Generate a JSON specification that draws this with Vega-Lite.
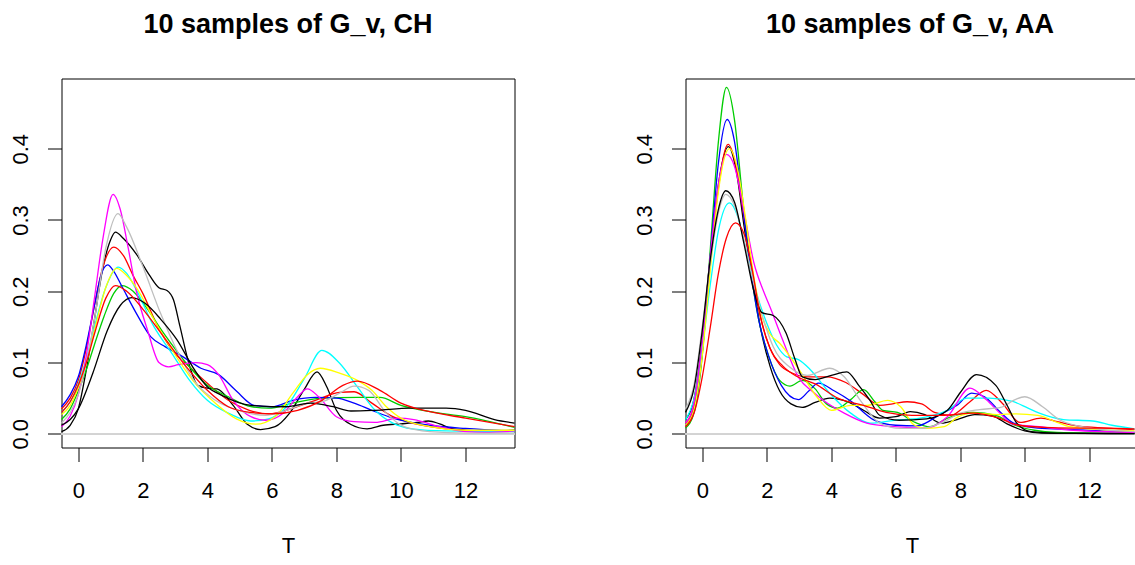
{
"$schema": "https://vega.github.io/schema/vega-lite/v6.json",
"padding": {"left": 8.5, "top": 10.5, "right": 0, "bottom": 5},
"background": "white",
"bounds": "flush",
"spacing": 171,
"config": {
  "font": "Liberation Sans",
  "view": {"stroke": null},
  "axis": {"grid": false, "domainColor": "black", "tickColor": "black", "labelColor": "black", "titleColor": "black", "labelFont": "Liberation Sans", "titleFont": "Liberation Sans", "labelFontSize": 22, "titleFontSize": 22, "titleFontWeight": "normal", "tickSize": 14, "domainWidth": 1, "tickWidth": 1},
  "title": {"font": "Liberation Sans", "fontSize": 27, "fontWeight": "bold", "color": "black", "baseline": "alphabetic", "offset": 40, "frame": "group", "anchor": "middle"}
},
"datasets": {"d": [
{"p":"CH","s":"s01","x":-0.52,"y":0.003},{"p":"CH","s":"s01","x":-0.25,"y":0.012},{"p":"CH","s":"s01","x":0,"y":0.035},{"p":"CH","s":"s01","x":0.25,"y":0.09},{"p":"CH","s":"s01","x":0.5,"y":0.16},{"p":"CH","s":"s01","x":0.75,"y":0.23},{"p":"CH","s":"s01","x":1.0,"y":0.272},{"p":"CH","s":"s01","x":1.15,"y":0.283},{"p":"CH","s":"s01","x":1.4,"y":0.274},{"p":"CH","s":"s01","x":1.8,"y":0.252},{"p":"CH","s":"s01","x":2.2,"y":0.223},{"p":"CH","s":"s01","x":2.5,"y":0.205},{"p":"CH","s":"s01","x":2.75,"y":0.201},{"p":"CH","s":"s01","x":2.95,"y":0.188},{"p":"CH","s":"s01","x":3.15,"y":0.151},{"p":"CH","s":"s01","x":3.45,"y":0.095},{"p":"CH","s":"s01","x":3.7,"y":0.068},{"p":"CH","s":"s01","x":4.0,"y":0.064},{"p":"CH","s":"s01","x":4.3,"y":0.063},{"p":"CH","s":"s01","x":4.8,"y":0.04},{"p":"CH","s":"s01","x":5.25,"y":0.013},{"p":"CH","s":"s01","x":5.65,"y":0.006},{"p":"CH","s":"s01","x":6.1,"y":0.01},{"p":"CH","s":"s01","x":6.55,"y":0.029},{"p":"CH","s":"s01","x":7.0,"y":0.062},{"p":"CH","s":"s01","x":7.4,"y":0.087},{"p":"CH","s":"s01","x":7.7,"y":0.066},{"p":"CH","s":"s01","x":8.0,"y":0.033},{"p":"CH","s":"s01","x":8.45,"y":0.013},{"p":"CH","s":"s01","x":8.95,"y":0.007},{"p":"CH","s":"s01","x":9.45,"y":0.012},{"p":"CH","s":"s01","x":10.0,"y":0.014},{"p":"CH","s":"s01","x":10.5,"y":0.016},{"p":"CH","s":"s01","x":10.85,"y":0.018},{"p":"CH","s":"s01","x":11.2,"y":0.014},{"p":"CH","s":"s01","x":11.6,"y":0.007},{"p":"CH","s":"s01","x":12.5,"y":0.004},{"p":"CH","s":"s01","x":13.52,"y":0.005},
{"p":"CH","s":"s02","x":-0.52,"y":0.035},{"p":"CH","s":"s02","x":-0.25,"y":0.05},{"p":"CH","s":"s02","x":0,"y":0.075},{"p":"CH","s":"s02","x":0.25,"y":0.12},{"p":"CH","s":"s02","x":0.5,"y":0.18},{"p":"CH","s":"s02","x":0.75,"y":0.232},{"p":"CH","s":"s02","x":1.1,"y":0.262},{"p":"CH","s":"s02","x":1.4,"y":0.25},{"p":"CH","s":"s02","x":1.7,"y":0.222},{"p":"CH","s":"s02","x":2.0,"y":0.197},{"p":"CH","s":"s02","x":2.45,"y":0.152},{"p":"CH","s":"s02","x":2.9,"y":0.118},{"p":"CH","s":"s02","x":3.45,"y":0.094},{"p":"CH","s":"s02","x":4.0,"y":0.071},{"p":"CH","s":"s02","x":4.65,"y":0.047},{"p":"CH","s":"s02","x":5.3,"y":0.033},{"p":"CH","s":"s02","x":5.9,"y":0.028},{"p":"CH","s":"s02","x":6.65,"y":0.036},{"p":"CH","s":"s02","x":7.35,"y":0.047},{"p":"CH","s":"s02","x":8.1,"y":0.058},{"p":"CH","s":"s02","x":8.55,"y":0.059},{"p":"CH","s":"s02","x":9.1,"y":0.043},{"p":"CH","s":"s02","x":9.75,"y":0.024},{"p":"CH","s":"s02","x":10.45,"y":0.014},{"p":"CH","s":"s02","x":11.4,"y":0.007},{"p":"CH","s":"s02","x":12.5,"y":0.004},{"p":"CH","s":"s02","x":13.52,"y":0.004},
{"p":"CH","s":"s03","x":-0.52,"y":0.02},{"p":"CH","s":"s03","x":-0.25,"y":0.035},{"p":"CH","s":"s03","x":0,"y":0.06},{"p":"CH","s":"s03","x":0.25,"y":0.09},{"p":"CH","s":"s03","x":0.5,"y":0.125},{"p":"CH","s":"s03","x":0.8,"y":0.165},{"p":"CH","s":"s03","x":1.1,"y":0.197},{"p":"CH","s":"s03","x":1.35,"y":0.208},{"p":"CH","s":"s03","x":1.7,"y":0.2},{"p":"CH","s":"s03","x":2.0,"y":0.184},{"p":"CH","s":"s03","x":2.65,"y":0.141},{"p":"CH","s":"s03","x":3.35,"y":0.099},{"p":"CH","s":"s03","x":4.0,"y":0.068},{"p":"CH","s":"s03","x":4.65,"y":0.052},{"p":"CH","s":"s03","x":5.35,"y":0.038},{"p":"CH","s":"s03","x":5.9,"y":0.036},{"p":"CH","s":"s03","x":6.65,"y":0.043},{"p":"CH","s":"s03","x":7.55,"y":0.05},{"p":"CH","s":"s03","x":8.65,"y":0.051},{"p":"CH","s":"s03","x":9.35,"y":0.051},{"p":"CH","s":"s03","x":10.0,"y":0.04},{"p":"CH","s":"s03","x":10.9,"y":0.031},{"p":"CH","s":"s03","x":12.0,"y":0.024},{"p":"CH","s":"s03","x":13.52,"y":0.009},
{"p":"CH","s":"s04","x":-0.52,"y":0.038},{"p":"CH","s":"s04","x":-0.25,"y":0.055},{"p":"CH","s":"s04","x":0,"y":0.08},{"p":"CH","s":"s04","x":0.25,"y":0.125},{"p":"CH","s":"s04","x":0.5,"y":0.18},{"p":"CH","s":"s04","x":0.7,"y":0.222},{"p":"CH","s":"s04","x":0.91,"y":0.237},{"p":"CH","s":"s04","x":1.1,"y":0.228},{"p":"CH","s":"s04","x":1.35,"y":0.207},{"p":"CH","s":"s04","x":1.8,"y":0.169},{"p":"CH","s":"s04","x":2.25,"y":0.136},{"p":"CH","s":"s04","x":2.7,"y":0.122},{"p":"CH","s":"s04","x":3.25,"y":0.108},{"p":"CH","s":"s04","x":3.8,"y":0.092},{"p":"CH","s":"s04","x":4.35,"y":0.083},{"p":"CH","s":"s04","x":4.9,"y":0.06},{"p":"CH","s":"s04","x":5.45,"y":0.04},{"p":"CH","s":"s04","x":6.0,"y":0.038},{"p":"CH","s":"s04","x":6.65,"y":0.047},{"p":"CH","s":"s04","x":7.35,"y":0.051},{"p":"CH","s":"s04","x":8.0,"y":0.05},{"p":"CH","s":"s04","x":8.55,"y":0.043},{"p":"CH","s":"s04","x":9.1,"y":0.033},{"p":"CH","s":"s04","x":9.75,"y":0.022},{"p":"CH","s":"s04","x":10.9,"y":0.012},{"p":"CH","s":"s04","x":12.0,"y":0.0075},{"p":"CH","s":"s04","x":13.52,"y":0.004},
{"p":"CH","s":"s05","x":-0.52,"y":0.03},{"p":"CH","s":"s05","x":-0.25,"y":0.045},{"p":"CH","s":"s05","x":0,"y":0.07},{"p":"CH","s":"s05","x":0.25,"y":0.105},{"p":"CH","s":"s05","x":0.5,"y":0.15},{"p":"CH","s":"s05","x":0.85,"y":0.205},{"p":"CH","s":"s05","x":1.24,"y":0.234},{"p":"CH","s":"s05","x":1.5,"y":0.225},{"p":"CH","s":"s05","x":1.8,"y":0.202},{"p":"CH","s":"s05","x":2.35,"y":0.15},{"p":"CH","s":"s05","x":2.9,"y":0.113},{"p":"CH","s":"s05","x":3.45,"y":0.075},{"p":"CH","s":"s05","x":4.0,"y":0.047},{"p":"CH","s":"s05","x":4.65,"y":0.029},{"p":"CH","s":"s05","x":5.35,"y":0.018},{"p":"CH","s":"s05","x":5.9,"y":0.021},{"p":"CH","s":"s05","x":6.45,"y":0.038},{"p":"CH","s":"s05","x":7.0,"y":0.077},{"p":"CH","s":"s05","x":7.55,"y":0.117},{"p":"CH","s":"s05","x":8.1,"y":0.099},{"p":"CH","s":"s05","x":8.65,"y":0.066},{"p":"CH","s":"s05","x":9.2,"y":0.033},{"p":"CH","s":"s05","x":9.75,"y":0.015},{"p":"CH","s":"s05","x":10.35,"y":0.007},{"p":"CH","s":"s05","x":11.4,"y":0.004},{"p":"CH","s":"s05","x":13.52,"y":0.003},
{"p":"CH","s":"s06","x":-0.52,"y":0.01},{"p":"CH","s":"s06","x":-0.25,"y":0.025},{"p":"CH","s":"s06","x":0,"y":0.055},{"p":"CH","s":"s06","x":0.25,"y":0.11},{"p":"CH","s":"s06","x":0.5,"y":0.19},{"p":"CH","s":"s06","x":0.75,"y":0.27},{"p":"CH","s":"s06","x":1.08,"y":0.336},{"p":"CH","s":"s06","x":1.3,"y":0.315},{"p":"CH","s":"s06","x":1.55,"y":0.26},{"p":"CH","s":"s06","x":1.8,"y":0.2},{"p":"CH","s":"s06","x":2.15,"y":0.145},{"p":"CH","s":"s06","x":2.5,"y":0.1},{"p":"CH","s":"s06","x":2.8,"y":0.094},{"p":"CH","s":"s06","x":3.1,"y":0.097},{"p":"CH","s":"s06","x":3.65,"y":0.1},{"p":"CH","s":"s06","x":4.0,"y":0.097},{"p":"CH","s":"s06","x":4.35,"y":0.083},{"p":"CH","s":"s06","x":4.8,"y":0.047},{"p":"CH","s":"s06","x":5.35,"y":0.024},{"p":"CH","s":"s06","x":5.8,"y":0.019},{"p":"CH","s":"s06","x":6.35,"y":0.029},{"p":"CH","s":"s06","x":6.8,"y":0.052},{"p":"CH","s":"s06","x":7.1,"y":0.063},{"p":"CH","s":"s06","x":7.45,"y":0.052},{"p":"CH","s":"s06","x":8.0,"y":0.024},{"p":"CH","s":"s06","x":8.55,"y":0.017},{"p":"CH","s":"s06","x":9.2,"y":0.016},{"p":"CH","s":"s06","x":9.9,"y":0.022},{"p":"CH","s":"s06","x":10.4,"y":0.02},{"p":"CH","s":"s06","x":11.2,"y":0.01},{"p":"CH","s":"s06","x":12.0,"y":0.003},{"p":"CH","s":"s06","x":12.6,"y":0.002},{"p":"CH","s":"s06","x":13.52,"y":0.004},
{"p":"CH","s":"s07","x":-0.52,"y":0.027},{"p":"CH","s":"s07","x":-0.25,"y":0.04},{"p":"CH","s":"s07","x":0,"y":0.065},{"p":"CH","s":"s07","x":0.25,"y":0.1},{"p":"CH","s":"s07","x":0.5,"y":0.145},{"p":"CH","s":"s07","x":0.85,"y":0.205},{"p":"CH","s":"s07","x":1.19,"y":0.232},{"p":"CH","s":"s07","x":1.5,"y":0.222},{"p":"CH","s":"s07","x":1.8,"y":0.205},{"p":"CH","s":"s07","x":2.35,"y":0.16},{"p":"CH","s":"s07","x":2.9,"y":0.118},{"p":"CH","s":"s07","x":3.55,"y":0.075},{"p":"CH","s":"s07","x":4.25,"y":0.043},{"p":"CH","s":"s07","x":4.9,"y":0.021},{"p":"CH","s":"s07","x":5.5,"y":0.0135},{"p":"CH","s":"s07","x":6.1,"y":0.024},{"p":"CH","s":"s07","x":6.65,"y":0.057},{"p":"CH","s":"s07","x":7.1,"y":0.083},{"p":"CH","s":"s07","x":7.5,"y":0.092},{"p":"CH","s":"s07","x":8.1,"y":0.085},{"p":"CH","s":"s07","x":8.65,"y":0.075},{"p":"CH","s":"s07","x":9.1,"y":0.061},{"p":"CH","s":"s07","x":9.55,"y":0.038},{"p":"CH","s":"s07","x":10.0,"y":0.022},{"p":"CH","s":"s07","x":10.9,"y":0.01},{"p":"CH","s":"s07","x":12.0,"y":0.005},{"p":"CH","s":"s07","x":13.52,"y":0.005},
{"p":"CH","s":"s08","x":-0.52,"y":0.015},{"p":"CH","s":"s08","x":-0.25,"y":0.03},{"p":"CH","s":"s08","x":0,"y":0.055},{"p":"CH","s":"s08","x":0.25,"y":0.1},{"p":"CH","s":"s08","x":0.5,"y":0.16},{"p":"CH","s":"s08","x":0.85,"y":0.26},{"p":"CH","s":"s08","x":1.23,"y":0.309},{"p":"CH","s":"s08","x":1.5,"y":0.29},{"p":"CH","s":"s08","x":2.0,"y":0.235},{"p":"CH","s":"s08","x":2.55,"y":0.169},{"p":"CH","s":"s08","x":3.1,"y":0.113},{"p":"CH","s":"s08","x":3.65,"y":0.071},{"p":"CH","s":"s08","x":4.25,"y":0.047},{"p":"CH","s":"s08","x":5.1,"y":0.031},{"p":"CH","s":"s08","x":5.8,"y":0.026},{"p":"CH","s":"s08","x":6.45,"y":0.033},{"p":"CH","s":"s08","x":7.1,"y":0.043},{"p":"CH","s":"s08","x":7.55,"y":0.045},{"p":"CH","s":"s08","x":8.1,"y":0.057},{"p":"CH","s":"s08","x":8.55,"y":0.067},{"p":"CH","s":"s08","x":9.0,"y":0.061},{"p":"CH","s":"s08","x":9.55,"y":0.029},{"p":"CH","s":"s08","x":10.1,"y":0.01},{"p":"CH","s":"s08","x":10.9,"y":0.003},{"p":"CH","s":"s08","x":12.0,"y":0.001},{"p":"CH","s":"s08","x":13.52,"y":0.001},
{"p":"CH","s":"s09","x":-0.52,"y":0.012},{"p":"CH","s":"s09","x":-0.25,"y":0.02},{"p":"CH","s":"s09","x":0,"y":0.035},{"p":"CH","s":"s09","x":0.45,"y":0.085},{"p":"CH","s":"s09","x":0.9,"y":0.145},{"p":"CH","s":"s09","x":1.3,"y":0.18},{"p":"CH","s":"s09","x":1.66,"y":0.191},{"p":"CH","s":"s09","x":2.1,"y":0.182},{"p":"CH","s":"s09","x":2.55,"y":0.161},{"p":"CH","s":"s09","x":3.05,"y":0.1325},{"p":"CH","s":"s09","x":3.6,"y":0.09},{"p":"CH","s":"s09","x":4.0,"y":0.066},{"p":"CH","s":"s09","x":4.45,"y":0.054},{"p":"CH","s":"s09","x":5.35,"y":0.04},{"p":"CH","s":"s09","x":6.45,"y":0.038},{"p":"CH","s":"s09","x":7.2,"y":0.043},{"p":"CH","s":"s09","x":7.9,"y":0.038},{"p":"CH","s":"s09","x":8.45,"y":0.032},{"p":"CH","s":"s09","x":9.2,"y":0.033},{"p":"CH","s":"s09","x":10.3,"y":0.036},{"p":"CH","s":"s09","x":11.4,"y":0.036},{"p":"CH","s":"s09","x":12.0,"y":0.033},{"p":"CH","s":"s09","x":12.9,"y":0.02},{"p":"CH","s":"s09","x":13.52,"y":0.015},
{"p":"CH","s":"s10","x":-0.52,"y":0.03},{"p":"CH","s":"s10","x":-0.25,"y":0.045},{"p":"CH","s":"s10","x":0,"y":0.068},{"p":"CH","s":"s10","x":0.25,"y":0.1},{"p":"CH","s":"s10","x":0.5,"y":0.14},{"p":"CH","s":"s10","x":0.85,"y":0.19},{"p":"CH","s":"s10","x":1.15,"y":0.208},{"p":"CH","s":"s10","x":1.5,"y":0.2},{"p":"CH","s":"s10","x":2.0,"y":0.175},{"p":"CH","s":"s10","x":2.65,"y":0.136},{"p":"CH","s":"s10","x":3.35,"y":0.094},{"p":"CH","s":"s10","x":4.0,"y":0.061},{"p":"CH","s":"s10","x":4.65,"y":0.038},{"p":"CH","s":"s10","x":5.35,"y":0.03},{"p":"CH","s":"s10","x":6.0,"y":0.028},{"p":"CH","s":"s10","x":6.8,"y":0.033},{"p":"CH","s":"s10","x":7.55,"y":0.047},{"p":"CH","s":"s10","x":8.2,"y":0.068},{"p":"CH","s":"s10","x":8.65,"y":0.074},{"p":"CH","s":"s10","x":9.35,"y":0.061},{"p":"CH","s":"s10","x":10.0,"y":0.043},{"p":"CH","s":"s10","x":10.9,"y":0.031},{"p":"CH","s":"s10","x":12.0,"y":0.022},{"p":"CH","s":"s10","x":13.52,"y":0.01},
{"p":"AA","s":"s01","x":-0.52,"y":0.02},{"p":"AA","s":"s01","x":-0.25,"y":0.05},{"p":"AA","s":"s01","x":0,"y":0.13},{"p":"AA","s":"s01","x":0.25,"y":0.25},{"p":"AA","s":"s01","x":0.5,"y":0.35},{"p":"AA","s":"s01","x":0.81,"y":0.403},{"p":"AA","s":"s01","x":1.05,"y":0.37},{"p":"AA","s":"s01","x":1.3,"y":0.29},{"p":"AA","s":"s01","x":1.55,"y":0.22},{"p":"AA","s":"s01","x":1.8,"y":0.15},{"p":"AA","s":"s01","x":2.1,"y":0.095},{"p":"AA","s":"s01","x":2.4,"y":0.06},{"p":"AA","s":"s01","x":2.75,"y":0.042},{"p":"AA","s":"s01","x":3.1,"y":0.037},{"p":"AA","s":"s01","x":3.5,"y":0.044},{"p":"AA","s":"s01","x":3.95,"y":0.05},{"p":"AA","s":"s01","x":4.5,"y":0.045},{"p":"AA","s":"s01","x":5.0,"y":0.033},{"p":"AA","s":"s01","x":5.5,"y":0.022},{"p":"AA","s":"s01","x":6.0,"y":0.024},{"p":"AA","s":"s01","x":6.45,"y":0.031},{"p":"AA","s":"s01","x":6.9,"y":0.027},{"p":"AA","s":"s01","x":7.4,"y":0.015},{"p":"AA","s":"s01","x":7.9,"y":0.02},{"p":"AA","s":"s01","x":8.45,"y":0.027},{"p":"AA","s":"s01","x":9.0,"y":0.025},{"p":"AA","s":"s01","x":9.45,"y":0.014},{"p":"AA","s":"s01","x":10.0,"y":0.004},{"p":"AA","s":"s01","x":10.5,"y":0.001},{"p":"AA","s":"s01","x":11.5,"y":0.0005},{"p":"AA","s":"s01","x":13.4,"y":0.0003},
{"p":"AA","s":"s02","x":-0.52,"y":0.015},{"p":"AA","s":"s02","x":-0.25,"y":0.04},{"p":"AA","s":"s02","x":0,"y":0.115},{"p":"AA","s":"s02","x":0.25,"y":0.24},{"p":"AA","s":"s02","x":0.5,"y":0.345},{"p":"AA","s":"s02","x":0.8,"y":0.406},{"p":"AA","s":"s02","x":1.05,"y":0.375},{"p":"AA","s":"s02","x":1.3,"y":0.3},{"p":"AA","s":"s02","x":1.55,"y":0.225},{"p":"AA","s":"s02","x":1.8,"y":0.165},{"p":"AA","s":"s02","x":2.1,"y":0.12},{"p":"AA","s":"s02","x":2.4,"y":0.097},{"p":"AA","s":"s02","x":2.8,"y":0.085},{"p":"AA","s":"s02","x":3.25,"y":0.08},{"p":"AA","s":"s02","x":3.85,"y":0.08},{"p":"AA","s":"s02","x":4.45,"y":0.072},{"p":"AA","s":"s02","x":5.0,"y":0.055},{"p":"AA","s":"s02","x":5.5,"y":0.04},{"p":"AA","s":"s02","x":5.9,"y":0.042},{"p":"AA","s":"s02","x":6.35,"y":0.045},{"p":"AA","s":"s02","x":6.8,"y":0.042},{"p":"AA","s":"s02","x":7.2,"y":0.03},{"p":"AA","s":"s02","x":7.7,"y":0.026},{"p":"AA","s":"s02","x":8.3,"y":0.045},{"p":"AA","s":"s02","x":8.8,"y":0.061},{"p":"AA","s":"s02","x":9.3,"y":0.043},{"p":"AA","s":"s02","x":9.85,"y":0.016},{"p":"AA","s":"s02","x":10.5,"y":0.022},{"p":"AA","s":"s02","x":11.0,"y":0.017},{"p":"AA","s":"s02","x":11.6,"y":0.011},{"p":"AA","s":"s02","x":12.5,"y":0.008},{"p":"AA","s":"s02","x":13.4,"y":0.006},
{"p":"AA","s":"s03","x":-0.52,"y":0.008},{"p":"AA","s":"s03","x":-0.25,"y":0.03},{"p":"AA","s":"s03","x":0,"y":0.11},{"p":"AA","s":"s03","x":0.25,"y":0.26},{"p":"AA","s":"s03","x":0.5,"y":0.41},{"p":"AA","s":"s03","x":0.75,"y":0.486},{"p":"AA","s":"s03","x":1.0,"y":0.44},{"p":"AA","s":"s03","x":1.25,"y":0.33},{"p":"AA","s":"s03","x":1.5,"y":0.23},{"p":"AA","s":"s03","x":1.75,"y":0.16},{"p":"AA","s":"s03","x":2.05,"y":0.11},{"p":"AA","s":"s03","x":2.4,"y":0.075},{"p":"AA","s":"s03","x":2.72,"y":0.067},{"p":"AA","s":"s03","x":3.1,"y":0.075},{"p":"AA","s":"s03","x":3.5,"y":0.063},{"p":"AA","s":"s03","x":3.85,"y":0.042},{"p":"AA","s":"s03","x":4.2,"y":0.036},{"p":"AA","s":"s03","x":4.6,"y":0.048},{"p":"AA","s":"s03","x":5.0,"y":0.062},{"p":"AA","s":"s03","x":5.35,"y":0.045},{"p":"AA","s":"s03","x":5.6,"y":0.033},{"p":"AA","s":"s03","x":6.05,"y":0.03},{"p":"AA","s":"s03","x":6.6,"y":0.016},{"p":"AA","s":"s03","x":7.05,"y":0.01},{"p":"AA","s":"s03","x":7.6,"y":0.022},{"p":"AA","s":"s03","x":8.4,"y":0.03},{"p":"AA","s":"s03","x":9.1,"y":0.026},{"p":"AA","s":"s03","x":9.7,"y":0.012},{"p":"AA","s":"s03","x":10.3,"y":0.005},{"p":"AA","s":"s03","x":11.0,"y":0.002},{"p":"AA","s":"s03","x":13.4,"y":0.0005},
{"p":"AA","s":"s04","x":-0.52,"y":0.012},{"p":"AA","s":"s04","x":-0.25,"y":0.035},{"p":"AA","s":"s04","x":0,"y":0.115},{"p":"AA","s":"s04","x":0.25,"y":0.25},{"p":"AA","s":"s04","x":0.5,"y":0.38},{"p":"AA","s":"s04","x":0.77,"y":0.441},{"p":"AA","s":"s04","x":1.0,"y":0.41},{"p":"AA","s":"s04","x":1.25,"y":0.32},{"p":"AA","s":"s04","x":1.5,"y":0.23},{"p":"AA","s":"s04","x":1.75,"y":0.16},{"p":"AA","s":"s04","x":2.05,"y":0.11},{"p":"AA","s":"s04","x":2.45,"y":0.068},{"p":"AA","s":"s04","x":2.98,"y":0.048},{"p":"AA","s":"s04","x":3.3,"y":0.06},{"p":"AA","s":"s04","x":3.6,"y":0.071},{"p":"AA","s":"s04","x":4.1,"y":0.06},{"p":"AA","s":"s04","x":4.6,"y":0.046},{"p":"AA","s":"s04","x":5.3,"y":0.02},{"p":"AA","s":"s04","x":6.0,"y":0.012},{"p":"AA","s":"s04","x":6.65,"y":0.011},{"p":"AA","s":"s04","x":7.4,"y":0.028},{"p":"AA","s":"s04","x":7.9,"y":0.04},{"p":"AA","s":"s04","x":8.35,"y":0.057},{"p":"AA","s":"s04","x":8.75,"y":0.052},{"p":"AA","s":"s04","x":9.25,"y":0.03},{"p":"AA","s":"s04","x":9.65,"y":0.015},{"p":"AA","s":"s04","x":10.4,"y":0.008},{"p":"AA","s":"s04","x":11.5,"y":0.006},{"p":"AA","s":"s04","x":12.5,"y":0.004},{"p":"AA","s":"s04","x":13.4,"y":0.002},
{"p":"AA","s":"s05","x":-0.52,"y":0.02},{"p":"AA","s":"s05","x":-0.25,"y":0.05},{"p":"AA","s":"s05","x":0,"y":0.12},{"p":"AA","s":"s05","x":0.25,"y":0.21},{"p":"AA","s":"s05","x":0.5,"y":0.285},{"p":"AA","s":"s05","x":0.84,"y":0.324},{"p":"AA","s":"s05","x":1.1,"y":0.305},{"p":"AA","s":"s05","x":1.4,"y":0.25},{"p":"AA","s":"s05","x":1.7,"y":0.195},{"p":"AA","s":"s05","x":2.0,"y":0.155},{"p":"AA","s":"s05","x":2.3,"y":0.125},{"p":"AA","s":"s05","x":2.62,"y":0.108},{"p":"AA","s":"s05","x":2.98,"y":0.104},{"p":"AA","s":"s05","x":3.35,"y":0.09},{"p":"AA","s":"s05","x":3.95,"y":0.057},{"p":"AA","s":"s05","x":4.6,"y":0.029},{"p":"AA","s":"s05","x":5.2,"y":0.015},{"p":"AA","s":"s05","x":5.95,"y":0.019},{"p":"AA","s":"s05","x":6.75,"y":0.022},{"p":"AA","s":"s05","x":7.6,"y":0.033},{"p":"AA","s":"s05","x":8.2,"y":0.05},{"p":"AA","s":"s05","x":8.9,"y":0.05},{"p":"AA","s":"s05","x":9.65,"y":0.045},{"p":"AA","s":"s05","x":10.1,"y":0.036},{"p":"AA","s":"s05","x":10.45,"y":0.029},{"p":"AA","s":"s05","x":11.2,"y":0.02},{"p":"AA","s":"s05","x":12.1,"y":0.018},{"p":"AA","s":"s05","x":12.7,"y":0.012},{"p":"AA","s":"s05","x":13.4,"y":0.007},
{"p":"AA","s":"s06","x":-0.52,"y":0.015},{"p":"AA","s":"s06","x":-0.25,"y":0.045},{"p":"AA","s":"s06","x":0,"y":0.13},{"p":"AA","s":"s06","x":0.25,"y":0.25},{"p":"AA","s":"s06","x":0.5,"y":0.35},{"p":"AA","s":"s06","x":0.75,"y":0.392},{"p":"AA","s":"s06","x":1.0,"y":0.375},{"p":"AA","s":"s06","x":1.3,"y":0.31},{"p":"AA","s":"s06","x":1.6,"y":0.24},{"p":"AA","s":"s06","x":1.9,"y":0.2},{"p":"AA","s":"s06","x":2.1,"y":0.178},{"p":"AA","s":"s06","x":2.5,"y":0.131},{"p":"AA","s":"s06","x":3.0,"y":0.078},{"p":"AA","s":"s06","x":3.4,"y":0.06},{"p":"AA","s":"s06","x":3.75,"y":0.047},{"p":"AA","s":"s06","x":4.4,"y":0.029},{"p":"AA","s":"s06","x":5.1,"y":0.015},{"p":"AA","s":"s06","x":5.95,"y":0.01},{"p":"AA","s":"s06","x":6.95,"y":0.008},{"p":"AA","s":"s06","x":7.6,"y":0.024},{"p":"AA","s":"s06","x":8.3,"y":0.064},{"p":"AA","s":"s06","x":8.8,"y":0.048},{"p":"AA","s":"s06","x":9.25,"y":0.028},{"p":"AA","s":"s06","x":9.6,"y":0.014},{"p":"AA","s":"s06","x":10.45,"y":0.01},{"p":"AA","s":"s06","x":11.5,"y":0.005},{"p":"AA","s":"s06","x":13.4,"y":0.002},
{"p":"AA","s":"s07","x":-0.52,"y":0.012},{"p":"AA","s":"s07","x":-0.25,"y":0.035},{"p":"AA","s":"s07","x":0,"y":0.11},{"p":"AA","s":"s07","x":0.25,"y":0.23},{"p":"AA","s":"s07","x":0.5,"y":0.34},{"p":"AA","s":"s07","x":0.84,"y":0.4},{"p":"AA","s":"s07","x":1.1,"y":0.37},{"p":"AA","s":"s07","x":1.35,"y":0.3},{"p":"AA","s":"s07","x":1.6,"y":0.22},{"p":"AA","s":"s07","x":1.85,"y":0.165},{"p":"AA","s":"s07","x":2.1,"y":0.14},{"p":"AA","s":"s07","x":2.4,"y":0.127},{"p":"AA","s":"s07","x":3.0,"y":0.09},{"p":"AA","s":"s07","x":3.55,"y":0.052},{"p":"AA","s":"s07","x":4.0,"y":0.033},{"p":"AA","s":"s07","x":4.6,"y":0.04},{"p":"AA","s":"s07","x":5.1,"y":0.04},{"p":"AA","s":"s07","x":5.75,"y":0.047},{"p":"AA","s":"s07","x":6.15,"y":0.038},{"p":"AA","s":"s07","x":6.55,"y":0.013},{"p":"AA","s":"s07","x":6.95,"y":0.0075},{"p":"AA","s":"s07","x":7.5,"y":0.01},{"p":"AA","s":"s07","x":7.9,"y":0.023},{"p":"AA","s":"s07","x":8.4,"y":0.029},{"p":"AA","s":"s07","x":9.2,"y":0.027},{"p":"AA","s":"s07","x":9.7,"y":0.028},{"p":"AA","s":"s07","x":10.4,"y":0.026},{"p":"AA","s":"s07","x":11.0,"y":0.016},{"p":"AA","s":"s07","x":11.4,"y":0.01},{"p":"AA","s":"s07","x":12.7,"y":0.005},{"p":"AA","s":"s07","x":13.4,"y":0.004},
{"p":"AA","s":"s08","x":-0.52,"y":0.035},{"p":"AA","s":"s08","x":-0.25,"y":0.07},{"p":"AA","s":"s08","x":0,"y":0.15},{"p":"AA","s":"s08","x":0.25,"y":0.24},{"p":"AA","s":"s08","x":0.5,"y":0.31},{"p":"AA","s":"s08","x":0.73,"y":0.336},{"p":"AA","s":"s08","x":1.0,"y":0.32},{"p":"AA","s":"s08","x":1.3,"y":0.27},{"p":"AA","s":"s08","x":1.6,"y":0.21},{"p":"AA","s":"s08","x":1.9,"y":0.16},{"p":"AA","s":"s08","x":2.2,"y":0.122},{"p":"AA","s":"s08","x":2.7,"y":0.094},{"p":"AA","s":"s08","x":3.25,"y":0.082},{"p":"AA","s":"s08","x":3.95,"y":0.092},{"p":"AA","s":"s08","x":4.4,"y":0.08},{"p":"AA","s":"s08","x":4.9,"y":0.047},{"p":"AA","s":"s08","x":5.5,"y":0.015},{"p":"AA","s":"s08","x":6.15,"y":0.0075},{"p":"AA","s":"s08","x":6.8,"y":0.0075},{"p":"AA","s":"s08","x":7.4,"y":0.015},{"p":"AA","s":"s08","x":8.0,"y":0.029},{"p":"AA","s":"s08","x":8.6,"y":0.034},{"p":"AA","s":"s08","x":9.25,"y":0.037},{"p":"AA","s":"s08","x":9.7,"y":0.048},{"p":"AA","s":"s08","x":10.0,"y":0.052},{"p":"AA","s":"s08","x":10.55,"y":0.038},{"p":"AA","s":"s08","x":11.1,"y":0.019},{"p":"AA","s":"s08","x":12.1,"y":0.0075},{"p":"AA","s":"s08","x":13.4,"y":0.003},
{"p":"AA","s":"s09","x":-0.52,"y":0.03},{"p":"AA","s":"s09","x":-0.25,"y":0.065},{"p":"AA","s":"s09","x":0,"y":0.145},{"p":"AA","s":"s09","x":0.25,"y":0.245},{"p":"AA","s":"s09","x":0.5,"y":0.315},{"p":"AA","s":"s09","x":0.73,"y":0.341},{"p":"AA","s":"s09","x":1.0,"y":0.325},{"p":"AA","s":"s09","x":1.3,"y":0.265},{"p":"AA","s":"s09","x":1.6,"y":0.2},{"p":"AA","s":"s09","x":1.85,"y":0.17},{"p":"AA","s":"s09","x":2.2,"y":0.166},{"p":"AA","s":"s09","x":2.6,"y":0.141},{"p":"AA","s":"s09","x":2.88,"y":0.104},{"p":"AA","s":"s09","x":3.1,"y":0.08},{"p":"AA","s":"s09","x":3.5,"y":0.076},{"p":"AA","s":"s09","x":4.0,"y":0.082},{"p":"AA","s":"s09","x":4.48,"y":0.087},{"p":"AA","s":"s09","x":4.85,"y":0.068},{"p":"AA","s":"s09","x":5.2,"y":0.047},{"p":"AA","s":"s09","x":5.5,"y":0.026},{"p":"AA","s":"s09","x":6.1,"y":0.019},{"p":"AA","s":"s09","x":6.95,"y":0.021},{"p":"AA","s":"s09","x":7.6,"y":0.033},{"p":"AA","s":"s09","x":8.0,"y":0.058},{"p":"AA","s":"s09","x":8.5,"y":0.083},{"p":"AA","s":"s09","x":9.1,"y":0.068},{"p":"AA","s":"s09","x":9.45,"y":0.04},{"p":"AA","s":"s09","x":9.75,"y":0.015},{"p":"AA","s":"s09","x":10.2,"y":0.003},{"p":"AA","s":"s09","x":11.0,"y":0.001},{"p":"AA","s":"s09","x":13.4,"y":0.0003},
{"p":"AA","s":"s10","x":-0.52,"y":0.01},{"p":"AA","s":"s10","x":-0.25,"y":0.03},{"p":"AA","s":"s10","x":0,"y":0.08},{"p":"AA","s":"s10","x":0.25,"y":0.15},{"p":"AA","s":"s10","x":0.5,"y":0.225},{"p":"AA","s":"s10","x":0.75,"y":0.275},{"p":"AA","s":"s10","x":1.03,"y":0.296},{"p":"AA","s":"s10","x":1.3,"y":0.28},{"p":"AA","s":"s10","x":1.55,"y":0.23},{"p":"AA","s":"s10","x":1.8,"y":0.165},{"p":"AA","s":"s10","x":2.1,"y":0.12},{"p":"AA","s":"s10","x":2.5,"y":0.095},{"p":"AA","s":"s10","x":2.95,"y":0.08},{"p":"AA","s":"s10","x":3.5,"y":0.07},{"p":"AA","s":"s10","x":4.2,"y":0.05},{"p":"AA","s":"s10","x":5.0,"y":0.04},{"p":"AA","s":"s10","x":5.7,"y":0.03},{"p":"AA","s":"s10","x":6.5,"y":0.026},{"p":"AA","s":"s10","x":7.5,"y":0.026},{"p":"AA","s":"s10","x":8.4,"y":0.029},{"p":"AA","s":"s10","x":9.2,"y":0.022},{"p":"AA","s":"s10","x":9.8,"y":0.012},{"p":"AA","s":"s10","x":10.6,"y":0.009},{"p":"AA","s":"s10","x":11.5,"y":0.008},{"p":"AA","s":"s10","x":12.5,"y":0.008},{"p":"AA","s":"s10","x":13.4,"y":0.007}
]},
"hconcat": [
{
  "title": "10 samples of G_v, CH",
  "width": 453, "height": 369,
  "data": {"name": "d"},
  "transform": [{"filter": "datum.p === 'CH'"}],
  "layer": [
    {"mark": {"type": "rule", "color": "#D3D3D3", "strokeWidth": 1},
     "encoding": {"y": {"datum": 0, "type": "quantitative", "axis": null}}},
    {"mark": {"type": "line", "strokeWidth": 1.3, "interpolate": "monotone"},
     "encoding": {
       "x": {"field": "x", "type": "quantitative", "scale": {"domain": [-0.52, 13.52], "nice": false, "zero": false},
             "axis": {"orient": "bottom", "values": [0,2,4,6,8,10,12], "title": "T", "labelPadding": 19, "titleY": 105, "titleBaseline": "alphabetic", "labelFlush": false, "labelOverlap": false}},
       "y": {"field": "y", "type": "quantitative", "scale": {"domain": [-0.0192, 0.4985], "nice": false, "zero": false},
             "axis": {"orient": "left", "values": [0,0.1,0.2,0.3,0.4], "format": ".1f", "title": null, "labelAngle": 270, "labelAlign": "center", "labelBaseline": "alphabetic", "labelPadding": 20, "labelFlush": false, "labelOverlap": false}},
       "color": {"field": "s", "type": "nominal", "scale": {"domain": ["s01","s02","s03","s04","s05","s06","s07","s08","s09","s10"], "range": ["#000000","#FF0000","#00CD00","#0000FF","#00FFFF","#FF00FF","#FFFF00","#BEBEBE","#000000","#FF0000"]}, "legend": null}
     }},
    {"mark": {"type": "line", "opacity": 0, "strokeOpacity": 0},
     "encoding": {
       "x": {"field": "x", "type": "quantitative", "axis": {"orient": "top", "ticks": false, "labels": false, "title": null, "domain": true}},
       "y": {"field": "y", "type": "quantitative", "axis": {"orient": "right", "ticks": false, "labels": false, "title": null, "domain": true}},
       "detail": {"field": "s"}
     }}
  ]
},
{
  "title": "10 samples of G_v, AA",
  "width": 449, "height": 369,
  "data": {"name": "d"},
  "transform": [{"filter": "datum.p === 'AA'"}],
  "layer": [
    {"mark": {"type": "rule", "color": "#D3D3D3", "strokeWidth": 1},
     "encoding": {"y": {"datum": 0, "type": "quantitative", "axis": null}}},
    {"mark": {"type": "line", "strokeWidth": 1.3, "interpolate": "monotone"},
     "encoding": {
       "x": {"field": "x", "type": "quantitative", "scale": {"domain": [-0.52, 13.40], "nice": false, "zero": false},
             "axis": {"orient": "bottom", "values": [0,2,4,6,8,10,12], "title": "T", "labelPadding": 19, "titleY": 105, "titleX": 226.5, "titleBaseline": "alphabetic", "labelFlush": false, "labelOverlap": false}},
       "y": {"field": "y", "type": "quantitative", "scale": {"domain": [-0.0192, 0.4985], "nice": false, "zero": false},
             "axis": {"orient": "left", "values": [0,0.1,0.2,0.3,0.4], "format": ".1f", "title": null, "labelAngle": 270, "labelAlign": "center", "labelBaseline": "alphabetic", "labelPadding": 20, "labelFlush": false, "labelOverlap": false}},
       "color": {"field": "s", "type": "nominal", "scale": {"domain": ["s01","s02","s03","s04","s05","s06","s07","s08","s09","s10"], "range": ["#000000","#FF0000","#00CD00","#0000FF","#00FFFF","#FF00FF","#FFFF00","#BEBEBE","#000000","#FF0000"]}, "legend": null}
     }},
    {"mark": {"type": "line", "opacity": 0, "strokeOpacity": 0},
     "encoding": {
       "x": {"field": "x", "type": "quantitative", "axis": {"orient": "top", "ticks": false, "labels": false, "title": null, "domain": true}},
       "y": {"field": "y", "type": "quantitative", "axis": {"orient": "right", "ticks": false, "labels": false, "title": null, "domain": false}},
       "detail": {"field": "s"}
     }}
  ]
}
]
}
